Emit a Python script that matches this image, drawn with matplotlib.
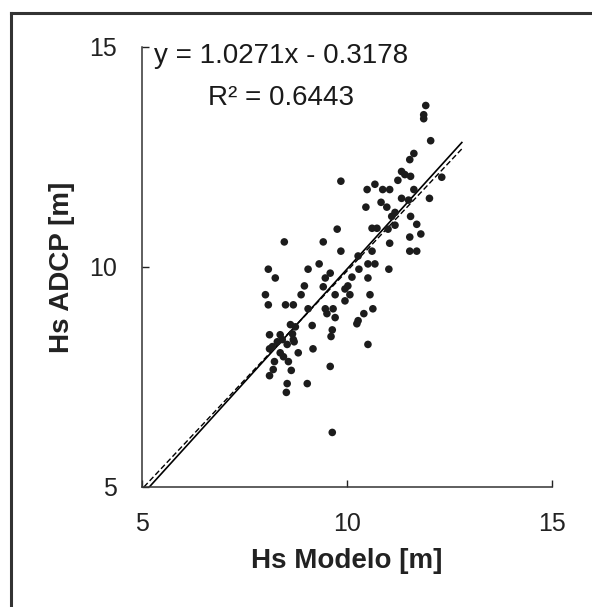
import numpy as np
import matplotlib
matplotlib.use("Agg")
import matplotlib.pyplot as plt
from matplotlib.lines import Line2D

plt.rcParams['font.family'] = ['Liberation Sans', 'DejaVu Sans']

# Hs modelo vs Hs ADCP (m)
hs_modelo = [11.92, 11.87, 11.87, 12.04, 11.63, 11.53, 9.85, 11.33, 11.41, 11.55,
             11.24, 12.31, 10.68, 10.49, 10.87, 11.04, 11.63, 12.01, 11.33, 11.50,
             10.83, 10.46, 10.97, 11.17, 11.09, 11.55, 11.17, 11.70, 10.61, 10.73,
             11.00, 9.76, 11.53, 11.80, 11.04, 8.47, 9.42, 11.53, 11.70, 10.61,
             9.85, 10.27, 9.32, 9.05, 8.08, 10.51, 10.68, 10.29, 11.02, 9.59,
             9.47, 8.25, 10.12, 10.51, 8.96, 9.42, 10.02, 9.95, 10.07, 9.71,
             8.88, 8.01, 10.56, 9.95, 8.08, 8.50, 8.69, 9.05, 9.47, 9.66,
             9.51, 9.71, 10.63, 10.41, 10.27, 8.62, 8.74, 9.15, 9.64, 9.61,
             10.24, 8.11, 8.37, 8.67, 8.69, 8.30, 8.42, 8.54, 8.71, 8.11,
             8.18, 8.37, 8.81, 9.17, 10.51, 8.23, 8.45, 8.57, 8.20, 8.11,
             8.64, 9.59, 8.54, 8.52, 9.03, 9.64]
hs_adcp = [13.67, 13.46, 13.37, 12.87, 12.58, 12.44, 11.95, 12.17, 12.10, 12.06,
           11.97, 12.04, 11.88, 11.76, 11.76, 11.76, 11.76, 11.56, 11.56, 11.52,
           11.47, 11.36, 11.36, 11.24, 11.15, 11.15, 10.95, 10.97, 10.88, 10.88,
           10.86, 10.86, 10.68, 10.75, 10.54, 10.57, 10.57, 10.36, 10.36, 10.36,
           10.36, 10.25, 10.07, 9.95, 9.95, 10.07, 10.07, 9.95, 9.95, 9.86,
           9.75, 9.75, 9.77, 9.75, 9.57, 9.55, 9.57, 9.50, 9.37, 9.37,
           9.37, 9.37, 9.37, 9.23, 9.14, 9.14, 9.14, 9.05, 9.05, 9.05,
           8.94, 8.85, 9.05, 8.94, 8.78, 8.69, 8.64, 8.67, 8.57, 8.42,
           8.71, 8.46, 8.46, 8.48, 8.35, 8.30, 8.35, 8.24, 8.30, 8.14,
           8.19, 8.05, 8.05, 8.14, 8.24, 7.85, 7.96, 7.85, 7.67, 7.53,
           7.65, 7.74, 7.35, 7.15, 7.35, 6.24]

# trendline from the chart label
slope = 1.0271
intercept = -0.3178
r2 = 0.6443
line_end = 12.8

ticks = [5, 10, 15]

x = np.array(hs_modelo)
y = np.array(hs_adcp)

fig = plt.figure(figsize=(5.92, 6.07), dpi=100)
ax = fig.add_axes([0.2399, 0.1977, 0.6926, 0.7249])

# frame around the picture (left and top edges only are visible)
fig.add_artist(Line2D([0.019, 0.019], [0.0, 0.979], transform=fig.transFigure,
                      color='#333333', lw=2.2))
fig.add_artist(Line2D([0.019, 1.0], [0.979, 0.979], transform=fig.transFigure,
                      color='#333333', lw=2.2))

ax.scatter(x, y, s=30, color='#1c1c1c', edgecolors='none', zorder=3)

# linear fit line
x0 = (5 - intercept) / slope
xs = np.array([x0, line_end])
ax.plot(xs, slope * xs + intercept, color='black', lw=1.2, zorder=2)

# fit through origin, dashed
k = np.sum(x * y) / np.sum(x * x)
xd = np.array([5 / k, line_end])
ax.plot(xd, k * xd, color='black', lw=1.0, ls=(0, (4, 2)), zorder=2)

ax.set_xlim(5, 15)
ax.set_ylim(5, 15)
ax.set_xticks(ticks)
ax.set_yticks(ticks)
ax.tick_params(direction='in', length=5, width=1, colors='#222222', labelsize=18)
ax.tick_params(axis='x', pad=18)
ax.tick_params(axis='y', pad=18)
for s in ['top', 'right']:
    ax.spines[s].set_visible(False)
for s in ['left', 'bottom']:
    ax.spines[s].set_color('#333333')
    ax.spines[s].set_linewidth(1.1)

ax.set_xlabel('Hs Modelo [m]', fontsize=20, fontweight='bold', color='#222222', labelpad=9)
ax.set_ylabel('Hs ADCP [m]', fontsize=20, fontweight='bold', color='#222222', labelpad=10)

eq_x = 5 + (281 - 142) / 41.0
ax.text(eq_x, 15.0 - 0.2, 'y = 1.0271x - 0.3178', ha='center', va='center',
        fontsize=20, color='#1a1a1a')
ax.text(eq_x, 15.0 - 1.17, 'R² = {:.4f}'.format(r2), ha='center', va='center',
        fontsize=20, color='#1a1a1a')

fig.savefig('out.png', dpi=100)
